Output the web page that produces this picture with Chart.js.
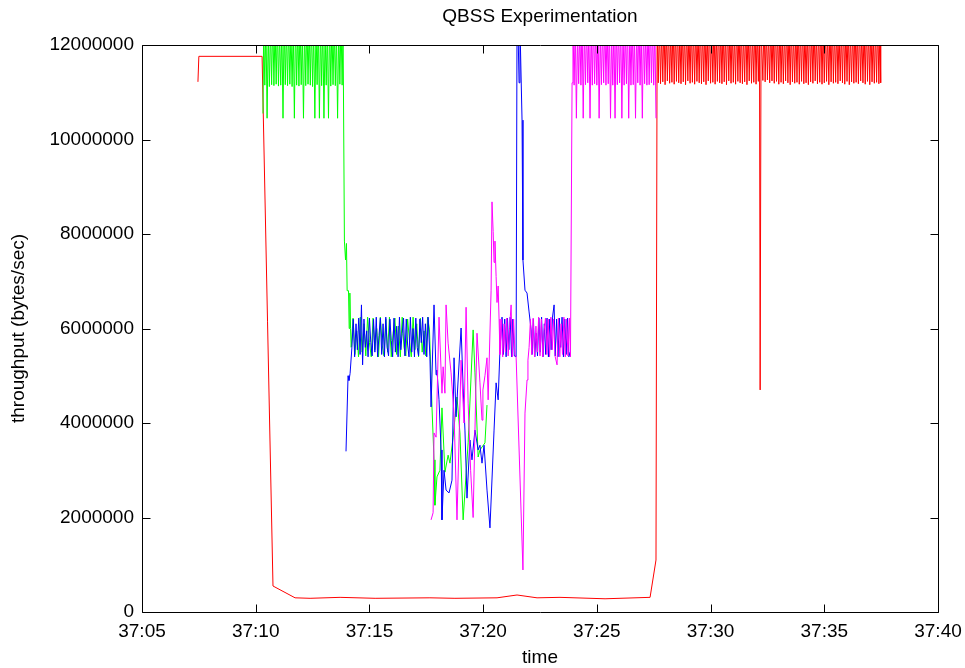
<!DOCTYPE html>
<html>
<head>
<meta charset="utf-8">
<script src="https://cdn.jsdelivr.net/npm/chart.js@4.4.0/dist/chart.umd.min.js"></script>
<style>
  html, body { margin: 0; padding: 0; background: #fff; }
</style>
</head>
<body>
<canvas id="qbssChart" width="965" height="668"></canvas>
<script>
// time = seconds after 37:00, rate = throughput in millions of bytes/sec
// (values above 12 are clipped by the axis, like in the original plot)

const xTicks = [5, 10, 15, 20, 25, 30, 35, 40];
const yTicks = [0, 2000000, 4000000, 6000000, 8000000, 10000000, 12000000];

const redPoints = [
  [7.46,11.22],[7.50,11.76],[10.28,11.76],[10.76,0.55],[11.73,0.30],[12.39,0.29],[13.71,0.31],[15.25,0.29],[17.66,0.30],[18.76,0.29],
  [20.61,0.30],[21.49,0.36],[22.37,0.30],[23.38,0.31],[25.36,0.28],[27.34,0.31],[27.60,1.10],
  [27.65,12.4],[27.70,11.20],[27.75,12.5],[27.80,11.18],[27.85,12.3],[27.90,11.22],[27.95,12.6],[28.00,11.16],[28.05,12.4],[28.10,11.24],
  [28.15,12.5],[28.20,11.19],[28.25,12.3],[28.30,11.21],[28.35,12.6],[28.40,11.17],[28.45,12.4],[28.50,11.23],[28.55,12.5],[28.60,11.20],
  [28.65,12.3],[28.70,11.18],[28.75,12.6],[28.80,11.22],[28.85,12.4],[28.90,11.16],[28.95,12.5],[29.00,11.24],[29.05,12.3],[29.10,11.19],
  [29.15,12.6],[29.20,11.21],[29.25,12.4],[29.30,11.17],[29.35,12.5],[29.40,11.23],[29.45,12.3],[29.50,11.20],[29.55,12.6],[29.60,11.18],
  [29.65,12.4],[29.70,11.22],[29.75,12.5],[29.80,11.16],[29.85,12.3],[29.90,11.24],[29.95,12.6],[30.00,11.19],[30.05,12.4],[30.10,11.21],
  [30.15,12.5],[30.20,11.17],[30.25,12.3],[30.30,11.23],[30.35,12.6],[30.40,11.20],[30.45,12.4],[30.50,11.18],[30.55,12.5],[30.60,11.22],
  [30.65,12.3],[30.70,11.16],[30.75,12.6],[30.80,11.24],[30.85,12.4],[30.90,11.19],[30.95,12.5],[31.00,11.21],[31.05,12.3],[31.10,11.17],
  [31.15,12.6],[31.20,11.23],[31.25,12.4],[31.30,11.20],[31.35,12.5],[31.40,11.18],[31.45,12.3],[31.50,11.22],[31.55,12.6],[31.60,11.16],
  [31.65,12.4],[31.70,11.24],[31.75,12.5],[31.80,11.19],[31.85,12.3],[31.90,11.21],[31.95,12.6],[32.00,11.17],[32.05,12.4],[32.10,11.23],
  [32.15,12.5],[32.18,4.70],[32.22,12.4],[32.30,11.25],[32.35,12.6],[32.40,11.22],[32.45,12.4],[32.50,11.26],[32.55,12.3],[32.60,11.20],
  [32.65,12.5],[32.70,11.24],[32.75,12.4],[32.80,11.19],[32.85,12.6],[32.90,11.23],[32.95,12.4],[33.00,11.17],[33.05,12.5],[33.10,11.21],
  [33.15,12.3],[33.20,11.18],[33.25,12.4],[33.30,11.24],[33.35,12.6],[33.40,11.20],[33.45,12.4],[33.50,11.16],[33.55,12.5],[33.60,11.22],
  [33.65,12.3],[33.70,11.19],[33.75,12.4],[33.80,11.21],[33.85,12.6],[33.90,11.17],[33.95,12.4],[34.00,11.23],[34.05,12.5],[34.10,11.18],
  [34.15,12.3],[34.20,11.20],[34.25,12.4],[34.30,11.16],[34.35,12.6],[34.40,11.22],[34.45,12.4],[34.50,11.19],[34.55,12.5],[34.60,11.24],
  [34.65,12.3],[34.70,11.18],[34.75,12.4],[34.80,11.21],[34.85,12.6],[34.90,11.17],[34.95,12.4],[35.00,11.20],[35.05,12.5],[35.10,11.23],
  [35.15,12.3],[35.20,11.16],[35.25,12.4],[35.30,11.22],[35.35,12.6],[35.40,11.19],[35.45,12.4],[35.50,11.21],[35.55,12.5],[35.60,11.18],
  [35.65,12.3],[35.70,11.24],[35.75,12.4],[35.80,11.20],[35.85,12.6],[35.90,11.17],[35.95,12.4],[36.00,11.23],[36.05,12.5],[36.10,11.16],
  [36.15,12.3],[36.20,11.22],[36.25,12.4],[36.30,11.19],[36.35,12.6],[36.40,11.21],[36.45,12.4],[36.50,11.18],[36.55,12.5],[36.60,11.24],
  [36.65,12.3],[36.70,11.20],[36.75,12.4],[36.80,11.17],[36.85,12.6],[36.90,11.23],[36.95,12.4],[37.00,11.16],[37.05,12.5],[37.10,11.22],
  [37.15,12.3],[37.20,11.19],[37.25,12.4],[37.30,11.21],[37.35,12.6],[37.40,11.18],[37.45,12.4],[37.48,11.20]
];

const greenPoints = [
  [10.32,10.55],[10.35,12.4],[10.40,11.15],[10.45,12.5],[10.50,10.45],[10.55,12.3],[10.60,11.12],[10.65,12.4],[10.70,11.16],[10.75,12.6],
  [10.80,11.14],[10.85,12.4],[10.90,11.17],[10.95,12.5],[11.00,11.13],[11.05,12.3],[11.10,11.15],[11.15,12.4],[11.20,10.45],[11.25,12.6],
  [11.30,11.16],[11.35,12.4],[11.40,11.14],[11.45,12.5],[11.50,11.17],[11.55,12.3],[11.60,11.12],[11.65,12.4],[11.70,10.45],[11.75,12.6],
  [11.80,11.15],[11.85,12.4],[11.90,11.13],[11.95,12.5],[12.00,11.16],[12.05,12.3],[12.10,10.45],[12.15,12.4],[12.20,11.14],[12.25,12.6],
  [12.30,11.17],[12.35,12.4],[12.40,11.15],[12.45,12.5],[12.50,11.12],[12.55,12.3],[12.60,10.45],[12.65,12.4],[12.70,11.16],[12.75,12.6],
  [12.80,10.45],[12.85,12.4],[12.90,11.14],[12.95,12.5],[13.00,10.45],[13.05,12.3],[13.10,11.15],[13.15,12.4],[13.20,10.45],[13.25,12.6],
  [13.30,11.13],[13.35,12.4],[13.40,11.16],[13.45,12.5],[13.50,11.14],[13.55,12.3],[13.60,10.45],[13.65,12.4],[13.70,11.17],[13.75,12.5],
  [13.80,11.15],[13.84,12.4],[13.90,7.85],[13.95,7.45],[13.99,7.80],[14.02,6.80],[14.08,6.80],[14.11,6.00],[14.14,6.75],[14.17,6.00],
  [14.20,5.60],[14.28,6.22],[14.36,5.45],[14.44,5.95],[14.52,5.40],[14.60,6.24],[14.68,5.50],[14.76,6.10],[14.84,5.42],[14.92,6.24],
  [15.00,5.70],[15.08,5.40],[15.16,6.22],[15.24,5.55],[15.32,6.00],[15.40,5.40],[15.48,6.24],[15.56,5.65],[15.64,5.42],[15.72,6.20],
  [15.80,5.50],[15.88,6.24],[15.96,5.40],[16.04,5.90],[16.12,6.22],[16.20,5.45],[16.28,6.05],[16.36,5.40],[16.44,6.24],[16.52,5.60],
  [16.60,5.42],[16.68,6.20],[16.76,5.75],[16.84,5.40],[16.92,6.24],[17.00,5.55],[17.08,6.10],[17.16,5.40],[17.24,6.22],[17.32,5.50],
  [17.40,5.95],[17.48,5.42],[17.56,6.24],[17.64,5.97],
  [17.75,4.34],[17.84,3.22],[17.88,2.26],[17.97,2.86],[18.10,3.00],[18.19,4.32],[18.32,2.96],[18.46,3.32],[18.54,3.15],[18.68,3.70],
  [18.85,4.55],[18.98,3.79],[19.12,1.95],[19.34,3.58],[19.56,5.97],[19.64,5.06],[19.78,3.28],[19.86,3.43],[20.08,3.58],[20.17,4.38]
];

const bluePoints = [
  [13.97,3.40],[14.06,5.00],[14.10,4.90],[14.15,5.05],
  [14.23,5.60],[14.29,6.20],[14.35,5.40],[14.41,6.10],[14.47,5.55],[14.53,6.22],[14.59,5.45],[14.65,6.50],[14.70,5.23],[14.76,6.20],
  [14.82,5.60],[14.88,5.95],[14.94,5.40],[15.00,6.22],[15.06,5.70],[15.12,5.42],[15.18,6.20],[15.24,5.50],[15.30,6.24],[15.36,5.40],
  [15.42,5.85],[15.48,6.22],[15.54,5.45],[15.60,6.10],[15.66,5.40],[15.72,6.24],[15.78,5.60],[15.84,5.42],[15.90,6.20],[15.96,5.75],
  [16.02,5.40],[16.08,6.22],[16.14,5.50],[16.20,6.05],[16.26,5.40],[16.32,6.24],[16.38,5.55],[16.44,5.90],[16.50,6.22],[16.56,5.42],
  [16.62,6.20],[16.68,5.65],[16.74,5.40],[16.80,6.24],[16.86,5.50],[16.92,6.00],[16.98,5.40],[17.04,6.22],[17.10,5.60],[17.16,5.42],
  [17.22,6.20],[17.28,5.70],[17.34,6.24],[17.40,5.45],[17.46,6.10],[17.52,5.40],
  [17.58,6.24],[17.66,5.40],[17.71,4.34],[17.84,6.50],[17.93,5.02],[17.97,5.12],[18.06,4.49],[18.15,3.43],[18.19,1.95],[18.28,3.00],
  [18.37,2.58],[18.50,2.52],[18.63,2.79],[18.72,5.38],[18.81,4.13],[18.90,4.91],[19.03,6.01],[19.12,4.74],[19.20,3.85],[19.29,2.41],
  [19.42,3.64],[19.51,3.22],[19.64,3.85],[19.78,3.43],[19.86,3.53],[19.95,3.15],[20.04,3.53],[20.17,2.58],[20.30,1.78],[20.48,3.85],
  [20.57,4.85],[20.66,4.49],[20.74,5.55],
  [20.83,6.24],[20.89,5.45],[20.95,6.20],[21.01,5.40],[21.07,6.22],[21.13,5.55],[21.19,6.24],[21.25,5.40],[21.31,6.20],[21.37,5.42],
  [21.45,5.40],[21.49,12.5],[21.53,12.4],[21.58,11.20],[21.62,12.4],[21.71,10.41],[21.75,7.45],[21.84,6.81],[21.93,6.75],[22.02,6.35],
  [22.11,5.97],
  [22.15,5.45],[22.21,6.20],[22.27,5.40],[22.33,5.90],[22.39,5.42],[22.45,6.22],[22.51,5.50],[22.57,6.24],[22.63,5.40],[22.69,6.10],
  [22.75,5.45],[22.81,6.22],[22.87,5.40],[22.93,6.20],[22.99,5.55],[23.05,6.24],[23.12,6.50],[23.17,5.42],[23.23,6.20],[23.29,5.40],
  [23.35,6.22],[23.41,5.60],[23.47,6.24],[23.53,5.40],[23.59,6.20],[23.65,5.45],[23.71,6.22],[23.77,5.40],[23.82,5.50]
];

const magentaPoints = [
  [17.71,1.95],[17.80,2.10],[17.84,3.79],[17.93,3.70],[18.06,6.24],[18.19,4.63],[18.24,5.19],[18.32,4.63],[18.37,6.50],[18.46,5.69],
  [18.59,5.06],[18.72,4.20],[18.85,1.95],[19.03,5.33],[19.16,4.00],[19.25,6.45],[19.34,4.42],[19.45,3.00],[19.56,2.00],[19.73,5.90],
  [19.86,4.85],[19.95,4.06],[19.99,4.70],[20.08,5.00],[20.17,5.38],[20.22,4.49],[20.35,6.81],[20.39,8.68],[20.44,8.05],[20.48,7.40],
  [20.52,7.85],[20.57,7.10],[20.61,6.55],[20.66,6.90],[20.70,6.20],
  [20.74,5.45],[20.80,6.20],[20.86,5.40],[20.92,6.10],[20.98,5.50],[21.04,6.22],[21.10,5.42],[21.16,6.00],[21.23,6.50],[21.28,5.40],
  [21.34,6.20],[21.40,5.45],[21.45,5.40],[21.75,0.89],[21.84,4.21],[21.93,4.91],[21.97,5.33],
  [22.02,5.60],[22.08,6.20],[22.14,5.45],[22.20,6.22],[22.26,5.40],[22.32,6.05],[22.38,5.50],[22.44,6.24],[22.50,5.42],[22.56,6.20],
  [22.62,5.40],[22.68,5.95],[22.74,6.22],[22.80,5.45],[22.86,6.20],[22.92,5.40],[22.98,6.24],[23.04,5.55],[23.10,6.20],[23.16,5.42],
  [23.25,5.23],[23.31,6.22],[23.37,5.40],[23.43,6.10],[23.49,5.45],[23.55,6.24],[23.61,5.40],[23.67,6.20],[23.73,5.42],[23.79,6.22],
  [23.84,5.40],[23.91,11.20],
  [23.95,12.4],[24.00,11.15],[24.05,12.5],[24.10,10.45],[24.15,12.3],[24.20,11.18],[24.25,12.4],[24.30,11.15],[24.35,12.6],[24.40,10.45],
  [24.45,12.4],[24.50,11.16],[24.55,12.5],[24.60,11.20],[24.65,12.3],[24.70,10.45],[24.75,12.4],[24.80,11.15],[24.85,12.6],[24.90,11.18],
  [24.95,12.4],[25.00,11.15],[25.05,12.5],[25.10,10.45],[25.15,12.3],[25.20,11.16],[25.25,12.4],[25.30,11.20],[25.35,12.6],[25.40,11.15],
  [25.45,12.4],[25.50,11.18],[25.55,12.5],[25.60,10.45],[25.65,12.3],[25.70,11.15],[25.75,12.4],[25.80,10.45],[25.85,12.6],[25.90,11.16],
  [25.95,12.4],[26.00,11.20],[26.05,12.5],[26.10,10.45],[26.15,12.3],[26.20,11.15],[26.25,12.4],[26.30,11.18],[26.35,12.6],[26.40,10.45],
  [26.45,12.4],[26.50,11.15],[26.55,12.5],[26.60,11.16],[26.65,12.3],[26.70,10.45],[26.75,12.4],[26.80,11.20],[26.85,12.6],[26.90,11.15],
  [26.95,12.4],[27.00,10.45],[27.05,12.5],[27.10,11.18],[27.15,12.3],[27.20,11.15],[27.25,12.4],[27.30,11.16],[27.35,12.6],[27.40,11.20],
  [27.45,12.4],[27.50,11.15],[27.55,12.5],[27.60,10.45]
];

const FONT = "'Liberation Sans', Arial, sans-serif";
Chart.defaults.font.family = FONT;
Chart.defaults.font.size = 19;
Chart.defaults.color = '#000';

function toXY(points) {
  return points.map(p => ({ x: p[0], y: p[1] * 1000000 }));
}

function line(label, points, color, order) {
  return {
    label: label,
    data: toXY(points),
    borderColor: color,
    backgroundColor: color,
    borderWidth: 1,
    pointRadius: 0,
    tension: 0,
    clip: 0,
    order: order
  };
}

// gnuplot style frame: box + inward ticks on all four sides, title and axis labels
const gnuplotFrame = {
  id: 'gnuplotFrame',
  afterDraw(chart) {
    const ctx = chart.ctx;
    const a = chart.chartArea;
    const xs = chart.scales.x, ys = chart.scales.y;
    const L = Math.round(a.left) + 0.5, R = Math.round(a.right) + 0.5;
    const T = Math.round(a.top) + 0.5, B = Math.round(a.bottom) + 0.5;
    ctx.save();
    ctx.strokeStyle = '#000';
    ctx.lineWidth = 1;
    ctx.beginPath();
    ctx.rect(L, T, R - L, B - T);
    xTicks.forEach(v => {
      const px = Math.round(xs.getPixelForValue(v)) + 0.5;
      ctx.moveTo(px, B); ctx.lineTo(px, B - 8);
      ctx.moveTo(px, T); ctx.lineTo(px, T + 8);
    });
    yTicks.forEach(v => {
      const py = Math.round(ys.getPixelForValue(v)) + 0.5;
      ctx.moveTo(L, py); ctx.lineTo(L + 8, py);
      ctx.moveTo(R, py); ctx.lineTo(R - 8, py);
    });
    ctx.stroke();

    ctx.fillStyle = '#000';
    ctx.font = '19px ' + FONT;
    ctx.textAlign = 'center';
    ctx.textBaseline = 'middle';
    const cx = (a.left + a.right) / 2;
    ctx.fillText('QBSS Experimentation', cx, 17);
    ctx.fillText('time', cx, 658);
    ctx.translate(19, (a.top + a.bottom) / 2);
    ctx.rotate(-Math.PI / 2);
    ctx.fillText('throughput (bytes/sec)', 0, 0);
    ctx.restore();
  }
};

new Chart(document.getElementById('qbssChart'), {
  type: 'line',
  data: {
    datasets: [
      line('red', redPoints, '#ff0000', 4),
      line('green', greenPoints, '#00ff00', 3),
      line('blue', bluePoints, '#0000ff', 2),
      line('magenta', magentaPoints, '#ff00ff', 1)
    ]
  },
  options: {
    responsive: false,
    animation: false,
    layout: { padding: { left: 0, top: 45, right: 27, bottom: 0 } },
    plugins: {
      legend: { display: false },
      tooltip: { enabled: false }
    },
    scales: {
      x: {
        type: 'linear',
        min: 5,
        max: 40,
        afterFit: s => { s.height = 56; s.paddingLeft = 0; s.paddingRight = 0; },
        afterBuildTicks: s => { s.ticks = xTicks.map(v => ({ value: v })); },
        grid: { display: false, drawTicks: false },
        border: { display: false },
        ticks: {
          padding: 8,
          maxRotation: 0,
          callback: v => '37:' + String(v).padStart(2, '0')
        }
      },
      y: {
        min: 0,
        max: 12000000,
        afterFit: s => { s.width = 142; s.paddingTop = 0; s.paddingBottom = 0; },
        afterBuildTicks: s => { s.ticks = yTicks.map(v => ({ value: v })); },
        grid: { display: false, drawTicks: false },
        border: { display: false },
        ticks: {
          padding: 8,
          callback: v => String(v)
        }
      }
    }
  },
  plugins: [gnuplotFrame]
});
</script>
</body>
</html>
